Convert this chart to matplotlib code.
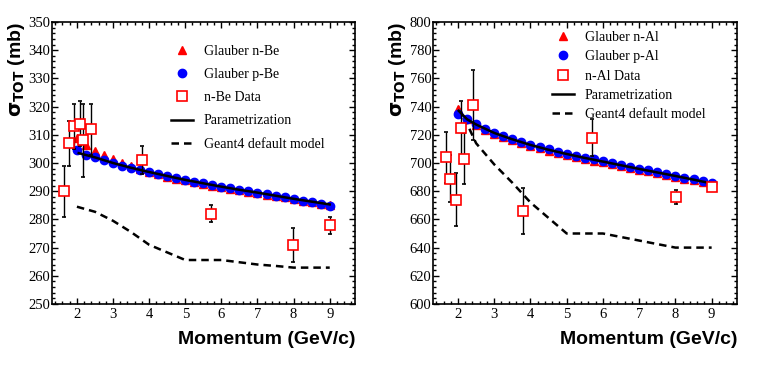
import numpy as np
import matplotlib
matplotlib.use("Agg")
import matplotlib.pyplot as plt
from matplotlib.ticker import MultipleLocator
from matplotlib.lines import Line2D

# ---------------- data ----------------
glauber_p = [2.0, 2.25, 2.5, 2.75, 3.0, 3.25, 3.5, 3.75, 4.0, 4.25, 4.5, 4.75, 5.0,
             5.25, 5.5, 5.75, 6.0, 6.25, 6.5, 6.75, 7.0, 7.25, 7.5, 7.75, 8.0,
             8.25, 8.5, 8.75, 9.0]

be_glauber_n = [309.0, 306.5, 304.3, 302.8, 301.3, 300.0, 298.8, 297.8, 296.8, 296.0,
                295.2, 294.5, 293.8, 293.2, 292.6, 292.0, 291.4, 290.8, 290.3, 289.8,
                289.3, 288.8, 288.3, 287.8, 287.2, 286.6, 286.0, 285.5, 285.0]
be_glauber_p = [304.5, 303.0, 302.0, 301.0, 300.0, 299.0, 298.3, 297.5, 296.8, 296.1,
                295.4, 294.7, 294.0, 293.4, 292.8, 292.2, 291.6, 291.1, 290.5, 290.0,
                289.5, 289.0, 288.4, 287.9, 287.3, 286.7, 286.1, 285.5, 284.8]
be_param_x = [2.05, 2.5, 3.0, 3.5, 4.0, 4.5, 5.0, 5.5, 6.0, 6.5, 7.0, 7.5, 8.0, 8.5, 9.0]
be_param_y = [303.5, 302.0, 300.0, 298.3, 296.8, 295.4, 294.0, 292.8, 291.6, 290.5,
              289.5, 288.4, 287.3, 286.3, 285.3]
be_g4_x = [2.0, 2.5, 3.0, 3.5, 4.0, 4.5, 5.0, 5.5, 6.0, 6.5, 7.0, 7.5, 8.0, 8.5, 9.0]
be_g4_y = [284.5, 282.7, 279.5, 275.5, 271.0, 268.3, 265.6, 265.6, 265.6, 264.8,
           264.0, 263.5, 262.9, 262.9, 262.9]
be_data_x = [1.65, 1.77, 1.93, 2.09, 2.17, 2.40, 3.81, 5.70, 7.99, 9.0]
be_data_y = [290.0, 307.0, 313.0, 314.0, 308.0, 312.0, 301.0, 282.0, 271.0, 278.0]
be_data_err = [9.0, 8.0, 8.0, 8.0, 13.0, 9.0, 5.0, 3.0, 6.0, 3.0]

al_glauber_n = [738.0, 731.5, 727.0, 723.4, 720.7, 718.2, 716.2, 714.2, 712.2, 710.5,
                708.8, 707.3, 705.8, 704.4, 703.0, 701.7, 700.4, 699.1, 697.8, 696.5,
                695.2, 694.0, 692.7, 691.4, 690.2, 688.9, 687.6, 686.3, 685.2]
al_glauber_p = [734.5, 731.0, 727.5, 724.0, 721.5, 719.0, 717.0, 715.0, 713.0, 711.3,
                709.6, 708.1, 706.6, 705.2, 703.8, 702.5, 701.2, 699.9, 698.6, 697.3,
                696.0, 694.8, 693.5, 692.2, 691.0, 689.7, 688.4, 687.1, 685.8]
al_param_x = [2.02, 2.25, 2.5, 3.0, 3.5, 4.0, 4.5, 5.0, 5.5, 6.0, 6.5, 7.0, 7.5, 8.0,
              8.5, 9.0]
al_param_y = [737.0, 731.0, 727.3, 721.3, 716.8, 712.8, 709.4, 706.4, 703.6, 701.0,
              698.4, 695.8, 693.3, 690.8, 688.2, 685.5]
al_g4_x = [2.0, 2.1, 2.3, 2.5, 3.0, 3.5, 4.0, 4.5, 5.0, 5.5, 6.0, 6.5, 7.0, 7.5, 8.0,
           8.5, 9.0]
al_g4_y = [740.0, 734.0, 725.0, 714.0, 699.0, 686.0, 672.0, 661.0, 650.0, 650.0,
           650.0, 647.5, 645.0, 642.5, 640.0, 640.0, 640.0]
al_data_x = [1.66, 1.77, 1.94, 2.09, 2.16, 2.41, 3.80, 5.70, 8.01, 9.02]
al_data_y = [704.0, 689.0, 674.0, 725.0, 703.0, 741.0, 666.0, 718.0, 676.0, 683.0]
al_data_err = [18.0, 17.0, 19.0, 19.0, 18.0, 25.0, 16.0, 13.0, 5.0, 3.0]

be_labels = ["Glauber n-Be", "Glauber p-Be", "n-Be Data", "Parametrization",
             "Geant4 default model"]
al_labels = ["Glauber n-Al", "Glauber p-Al", "n-Al Data", "Parametrization",
             "Geant4 default model"]

# ---------------- figure ----------------
fig = plt.figure(figsize=(7.63, 3.65), dpi=100)
W, H = 763.0, 365.0
AX_T, AX_B = 22.0, 304.0

def add_ax(l, r):
    return fig.add_axes([l / W, 1 - AX_B / H, (r - l) / W, (AX_B - AX_T) / H])

ax1 = add_ax(52, 355)
ax2 = add_ax(433, 737)

serif = "Liberation Serif"
sans = "Liberation Sans"
MS = 6.0
SQ = 6.5

def style(ax, ylim, ymaj, ymin):
    ax.set_xlim(1.31, 9.7)
    ax.set_ylim(*ylim)
    ax.xaxis.set_major_locator(MultipleLocator(1))
    ax.xaxis.set_minor_locator(MultipleLocator(0.2))
    ax.yaxis.set_major_locator(MultipleLocator(ymaj))
    ax.yaxis.set_minor_locator(MultipleLocator(ymin))
    ax.tick_params(which="both", direction="in", top=True, right=True,
                   width=1.0, color="black")
    ax.tick_params(which="major", length=4)
    ax.tick_params(which="minor", length=2.2)
    ax.tick_params(axis="x", which="major", pad=3)
    ax.tick_params(axis="y", which="major", pad=1)
    for lab in ax.get_xticklabels() + ax.get_yticklabels():
        lab.set_fontfamily(serif)
        lab.set_fontsize(10.5)
    for s in ax.spines.values():
        s.set_linewidth(1.2)
    ax.set_xlabel("Momentum (GeV/c)", fontfamily=sans, fontweight="bold",
                  fontsize=14, loc="right", labelpad=7)
    ax.set_ylabel(r"$\mathbf{\sigma_{TOT}}$ (mb)", fontfamily=sans,
                  fontweight="bold", fontsize=14, loc="top", labelpad=1)

def draw(ax, gn, gp, px, py, g4x, g4y, dx, dy, de):
    ax.plot(g4x, g4y, ls=(0, (3, 2)), color="black", lw=1.8, zorder=2)
    ax.plot(glauber_p, gn, ls="none", marker="^", color="red", ms=MS, zorder=3)
    ax.plot(glauber_p, gp, ls="none", marker="o", color="blue", ms=MS, zorder=4)
    ax.plot(px, py, ls="-", color="black", lw=1.8, zorder=5)
    ax.errorbar(dx, dy, yerr=de, fmt="s", mfc="white", mec="red", mew=1.2,
                ms=SQ, ecolor="black", elinewidth=1.0, capsize=1.5, capthick=1.0,
                zorder=6)

draw(ax1, be_glauber_n, be_glauber_p, be_param_x, be_param_y, be_g4_x, be_g4_y,
     be_data_x, be_data_y, be_data_err)
draw(ax2, al_glauber_n, al_glauber_p, al_param_x, al_param_y, al_g4_x, al_g4_y,
     al_data_x, al_data_y, al_data_err)

style(ax1, (250, 350), 10, 2)
style(ax2, (600, 800), 20, 4)

def handles():
    return [
        Line2D([], [], ls="none", marker="^", color="red", ms=MS),
        Line2D([], [], ls="none", marker="o", color="blue", ms=MS),
        Line2D([], [], ls="none", marker="s", mfc="white", mec="red", mew=1.2, ms=SQ),
        Line2D([], [], ls="-", color="black", lw=1.8),
        Line2D([], [], ls=(0, (3, 2)), color="black", lw=1.8),
    ]

def legend(ax, labels, x_px, y_top_px, spacing):
    pos = ax.get_position()
    ax.legend(handles(), labels, loc="upper left",
              bbox_to_anchor=((x_px - pos.x0 * W) / (pos.width * W),
                              1 - (y_top_px - AX_T) / (AX_B - AX_T)),
              frameon=False, prop={"family": serif, "size": 10},
              handlelength=1.6, handletextpad=0.75, labelspacing=spacing,
              borderaxespad=0, borderpad=0)

legend(ax1, be_labels, 171, 45.0, 0.73)
legend(ax2, al_labels, 552, 31.0, 0.45)

fig.savefig("out.png", dpi=100)
